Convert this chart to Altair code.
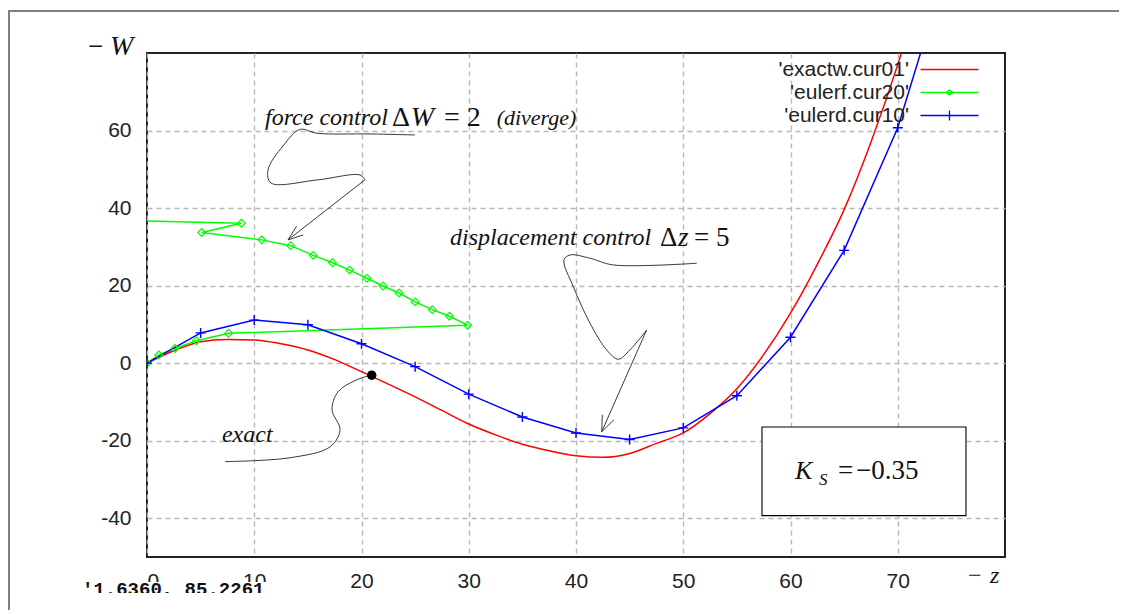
import altair as alt
import pandas as pd
import numpy as np

# ---------------- data ----------------
exact_z = [0, 2.5, 5, 7.5, 10, 12.5, 15, 17.5, 20, 22.5, 25, 27.5, 30, 32.5, 35,
           37.5, 40, 42.5, 45, 47.5, 50, 52.5, 55, 57.5, 60, 62.5, 65, 67.5, 70, 72]
exact_w = [0, 3.2, 5.5, 6.1, 6.0, 5.0, 3.4, 0.9, -2.2, -5.4, -8.7, -12.2, -15.7, -18.5, -20.9,
           -22.6, -23.9, -24.3, -23.3, -20.7, -18.0, -13.0, -6.6, 2.2, 12.9, 25.5, 39.6, 57.0, 77.0, 95.0]

green_z = [0, 1.1, 2.6, 4.6, 7.6, 29.9, 28.2, 26.6, 25.0, 23.5, 22.0, 20.5, 18.9, 17.3,
           15.5, 13.4, 10.7, 5.1, 8.8, -20]
green_w = [0, 2.1, 3.8, 5.8, 7.7, 9.8, 12.1, 13.8, 15.8, 18.1, 19.9, 21.9, 24.0, 25.9,
           27.8, 30.3, 31.8, 33.7, 36.1, 38.0]

blue_z = [0, 5, 10, 15, 20, 25, 30, 35, 40, 45, 50, 55, 60, 65, 70, 75]
blue_w = [0, 7.8, 11.1, 9.9, 5.0, -0.9, -8.0, -13.9, -18.0, -19.7, -16.7, -8.4, 6.7, 29.1, 60.7, 106]

series_names = ["exactw.cur01", "eulerf.cur20", "eulerd.cur10"]
series_colors = ["#ff0000", "#00ff00", "#0000ff"]

x_ticks = [0, 10, 20, 30, 40, 50, 60, 70]
y_ticks = [-40, -20, 0, 20, 40, 60]

# annotation connector curves (data units)
force_curve = [(24.99, 58.86), (20.79, 59.12), (15.85, 59.30), (14.27, 60.28), (12.68, 56.02),
               (11.28, 49.83), (11.56, 46.48), (15.85, 47.25), (19.86, 48.54), (20.33, 47.3)]
force_tip = (13.15, 31.8)
disp_curve = [(51.25, 25.77), (43.48, 25.33), (41.31, 27.06), (39.44, 27.91), (38.88, 26.62),
              (39.75, 19.73), (41.31, 10.29), (42.86, 3.41), (43.94, 1.01), (45.03, 3.41),
              (46.59, 8.56)]
disp_tip = (42.40, -17.67)
exact_curve = [(7.27, -25.4), (13.33, -24.4), (17.06, -21.6), (18.0, -17.2), (17.25, -12.0),
               (17.81, -7.4), (19.39, -4.5), (20.98, -3.0)]
dot_pt = (20.95, -3.1)

ks_box = (57.34, 76.36, -16.46, -39.33)

# ---------------- geometry ----------------
PW, PH = 858, 504
Z_DOM = [0, 80]
W_DOM = [-50, 80]
sx = PW / (Z_DOM[1] - Z_DOM[0])
sy = PH / (W_DOM[1] - W_DOM[0])

SERIF = "Liberation Serif"
SANS = "Liberation Sans"

x_scale = alt.Scale(domain=Z_DOM, nice=False, zero=False)
y_scale = alt.Scale(domain=W_DOM, nice=False, zero=False)
axis_common = dict(title=None, grid=True, ticks=False, domain=False, zindex=0,
                   labelFont=SANS, labelFontSize=21, labelColor="#222",
                   labelExpr="toString(datum.value)",
                   gridColor="#b8b8b8", gridDash=[5, 4], gridWidth=1.4)
x_axis = alt.Axis(values=x_ticks, labelPadding=13, **axis_common)
y_axis = alt.Axis(values=y_ticks, labelPadding=16, **axis_common)


def X(field="z"):
    return alt.X(f"{field}:Q", scale=x_scale, axis=x_axis)


def Y(field="W"):
    return alt.Y(f"{field}:Q", scale=y_scale, axis=y_axis)


shape_sig = ("datum.value == 'exactw.cur01' ? 'M-5.8,0H5.8' : "
             "datum.value == 'eulerf.cur20' ? 'M-5.8,0H5.8M0.7,0L0,0.5L-0.7,0L0,-0.5Z' : "
             "'M-5.8,0H5.8M0,-1V1'")
legend = alt.Legend(orient="none", legendX=792, legendY=6, title=None, padding=0,
                    labelFont=SANS, labelFontSize=21, labelColor="#222", labelLimit=400,
                    labelAlign="right", labelOffset={"expr": "-51"}, symbolSize=100,
                    symbolStrokeWidth=1.3, rowPadding=1, symbolFillColor="transparent",
                    symbolType={"expr": shape_sig},
                    labelExpr="\"'\" + datum.label + \"'\"")
color = alt.Color("series:N", scale=alt.Scale(domain=series_names, range=series_colors),
                  legend=legend)

exact_df = pd.DataFrame({"z": exact_z, "W": exact_w, "series": series_names[0]})
exact_df["i"] = range(len(exact_df))
green_df = pd.DataFrame({"z": green_z, "W": green_w, "series": series_names[1]})
green_df["i"] = range(len(green_df))
blue_df = pd.DataFrame({"z": blue_z, "W": blue_w, "series": series_names[2]})
blue_df["i"] = range(len(blue_df))
euler_df = pd.concat([green_df, blue_df], ignore_index=True)

red_line = alt.Chart(exact_df).mark_line(interpolate="monotone", strokeWidth=1.5, clip=True).encode(
    x=X(), y=Y(), color=color, order="i:Q")
euler_line = alt.Chart(euler_df).mark_line(strokeWidth=1.5, clip=True).encode(
    x=X(), y=Y(), color=color, order="i:Q")
green_pts = alt.Chart(green_df).mark_point(shape="diamond", filled=False, size=60, strokeWidth=1.2,
                                           color="#00ff00", opacity=1, clip=True).encode(x=X(), y=Y())
blue_pts = alt.Chart(blue_df).mark_point(shape="M-1,0H1M0,-1V1", filled=False, size=100,
                                         strokeWidth=1.4, color="#0000ff", opacity=1,
                                         clip=True).encode(x=X(), y=Y())


# connectors
def curve_rows(name, pts):
    return [{"id": name, "i": k, "z": p[0], "W": p[1]} for k, p in enumerate(pts)]


def arrow_rows(name, tail, tip, length=16, ang=21):
    rows = [{"id": name + "_shaft", "i": 0, "z": tail[0], "W": tail[1]},
            {"id": name + "_shaft", "i": 1, "z": tip[0], "W": tip[1]}]
    tx, ty = tail[0] * sx, -tail[1] * sy
    px, py = tip[0] * sx, -tip[1] * sy
    u = np.array([tx - px, ty - py])
    u = u / np.linalg.norm(u)
    pts = []
    for a in (ang, -ang):
        t = np.radians(a)
        r = np.array([u[0] * np.cos(t) - u[1] * np.sin(t), u[0] * np.sin(t) + u[1] * np.cos(t)])
        q = np.array([px, py]) + length * r
        pts.append((q[0] / sx, -q[1] / sy))
    head = [pts[0], tip, pts[1]]
    rows += [{"id": name + "_head", "i": k, "z": p[0], "W": p[1]} for k, p in enumerate(head)]
    return rows


curves_df = pd.DataFrame(curve_rows("force", force_curve) + curve_rows("disp", disp_curve)
                         + curve_rows("exact", exact_curve))
straight_df = pd.DataFrame(arrow_rows("force", force_curve[-1], force_tip, 16, 20)
                           + arrow_rows("disp", disp_curve[-1], disp_tip, 17, 22))

curves = alt.Chart(curves_df).mark_line(interpolate="catmull-rom", color="#222",
                                        strokeWidth=0.9).encode(
    x=X(), y=Y(), detail="id:N", order="i:Q")
straights = alt.Chart(straight_df).mark_line(color="#222", strokeWidth=0.9).encode(
    x=X(), y=Y(), detail="id:N", order="i:Q")

dot = alt.Chart(pd.DataFrame({"z": [dot_pt[0]], "W": [dot_pt[1]]})).mark_circle(
    size=90, color="black", opacity=1).encode(x=X(), y=Y())

box = alt.Chart(pd.DataFrame({"z": [ks_box[0]], "z2": [ks_box[1]], "W": [ks_box[2]], "W2": [ks_box[3]]})
                ).mark_rect(fill="white", stroke="black", strokeWidth=1.1).encode(
    x=X(), x2="z2:Q", y=Y(), y2="W2:Q")

# annotation texts (text, z, W, fontsize, italic)
ann = [
    ("force control", 11.0, 61.4, 24, True),
    ("Δ", 22.84, 61.2, 28, False),
    ("W", 24.6, 61.2, 28, True),
    ("= 2", 27.69, 61.2, 28, False),
    ("(diverge)", 32.6, 61.4, 22, True),
    ("displacement control", 28.25, 30.4, 24, True),
    ("Δ", 47.83, 30.2, 27, False),
    ("z", 49.5, 30.2, 27, True),
    ("= 5", 51.0, 30.2, 27, False),
    ("exact", 6.99, -20.4, 24, True),
    ("K", 60.42, -29.95, 26, True),
    ("S", 62.66, -31.4, 17, True),
    ("=", 64.43, -29.95, 27, False),
    ("−0.35", 66.1, -29.95, 27, False),
]
text_layers = []
for t, z, w, fs, it in ann:
    text_layers.append(
        alt.Chart(pd.DataFrame({"z": [z], "W": [w], "t": [t]})).mark_text(
            align="left", baseline="alphabetic", font=SERIF, fontSize=fs,
            fontStyle="italic" if it else "normal", color="#111").encode(
            x=X(), y=Y(), text="t:N"))


# decorations outside the plot area (pixel offsets from plot origin)
def pix_text(txt, x, y, size, italic=False, bold=False, font=SERIF):
    return alt.Chart(pd.DataFrame({"t": [txt]})).mark_text(
        align="left", baseline="alphabetic", font=font, fontSize=size,
        fontStyle="italic" if italic else "normal",
        fontWeight="bold" if bold else "normal", color="#111").encode(
        x=alt.value(x), y=alt.value(y), text="t:N")


one = pd.DataFrame({"a": [0]})


def pix_band(x1, x2, y, w, col="white"):
    return alt.Chart(one).mark_rule(color=col, strokeWidth=w).encode(
        x=alt.value(x1), x2=alt.value(x2), y=alt.value(y))


decor = [
    pix_text("−", -59, 2, 27),
    pix_text("W", -37, 2, 28, italic=True),
    pix_text("−", 821, 530, 24),
    pix_text("z", 843, 530, 24, italic=True),
    pix_band(-72, 140, 540.5, 23),
    pix_text("'1.6360,  85.2261", -65, 542, 19, bold=True, font="Liberation Mono"),
    pix_band(-72, 140, 546, 12),
]
border_left = alt.Chart(one).mark_rule(color="#808080", strokeWidth=2).encode(
    x=alt.value(-138), y=alt.value(-42), y2=alt.value(560))
border_top = pix_band(-139, 975, -42, 2, "#808080")

chart = alt.layer(
    red_line, euler_line, green_pts, blue_pts, curves, straights, box, dot,
    *text_layers, *decor, border_left, border_top
).properties(
    width=PW, height=PH,
    padding={"left": 139, "top": 45, "right": 114, "bottom": 53},
    autosize=alt.AutoSizeParams(type="none"),
    background="white",
).configure_view(stroke="#222", strokeWidth=2)

chart.save("out.html", embed_options={"renderer": "svg", "actions": False})
